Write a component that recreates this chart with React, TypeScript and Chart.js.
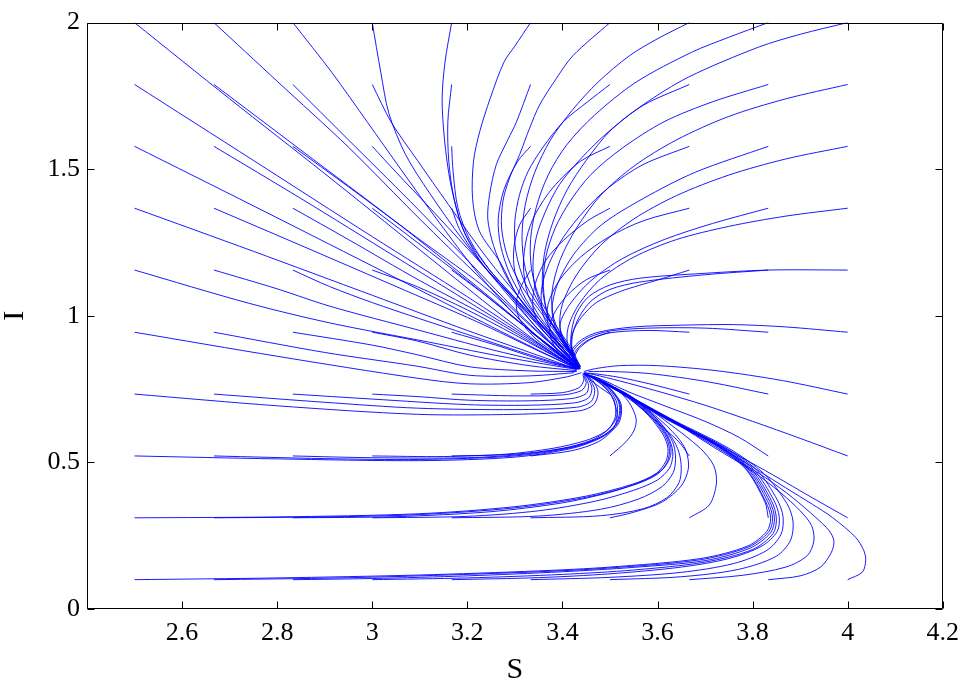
import React, { useEffect, useRef } from 'react';
import { Chart, registerables } from 'chart.js';

Chart.register(...registerables);

type Pt = [number, number];
type Traj = Pt[];

const X_TICKS = [2.4, 2.6, 2.8, 3.0, 3.2, 3.4, 3.6, 3.8, 4.0, 4.2];
const Y_TICKS = [0, 0.5, 1, 1.5, 2];
const X_TITLE = 'S';
const Y_TITLE = 'I';

// Trajectories grouped by their starting I value (each one: list of [S, I])
const ROW_I010: Traj[] = [
  [[2.5,0.1],[2.8,0.106],[3.1,0.116],[3.35,0.13],[3.5,0.143],[3.69,0.172],[3.79,0.215],[3.83,0.265],[3.838,0.31],[3.828,0.365],[3.786,0.48],[3.723,0.56],[3.618,0.65],[3.534,0.729],[3.478,0.779],[3.447,0.802]],
  [[2.667,0.1],[2.9,0.105],[3.1,0.113],[3.35,0.127],[3.5,0.14],[3.69,0.168],[3.792,0.212],[3.834,0.263],[3.842,0.31],[3.832,0.366],[3.79,0.478],[3.726,0.558],[3.62,0.649],[3.536,0.728],[3.479,0.778],[3.447,0.802]],
  [[2.833,0.1],[3.0,0.104],[3.2,0.113],[3.4,0.127],[3.55,0.142],[3.7,0.165],[3.795,0.208],[3.838,0.26],[3.846,0.31],[3.836,0.367],[3.794,0.476],[3.728,0.557],[3.621,0.648],[3.537,0.727],[3.48,0.778],[3.447,0.802]],
  [[3.0,0.1],[3.2,0.106],[3.4,0.118],[3.55,0.133],[3.7,0.16],[3.8,0.203],[3.843,0.257],[3.85,0.31],[3.84,0.368],[3.798,0.475],[3.73,0.556],[3.622,0.648],[3.537,0.727],[3.48,0.778],[3.447,0.802]],
  [[3.167,0.1],[3.35,0.107],[3.5,0.12],[3.65,0.143],[3.75,0.172],[3.82,0.215],[3.852,0.265],[3.856,0.315],[3.845,0.37],[3.803,0.474],[3.735,0.555],[3.625,0.647],[3.538,0.727],[3.48,0.778],[3.447,0.802]],
  [[3.333,0.1],[3.5,0.108],[3.65,0.125],[3.76,0.155],[3.83,0.2],[3.86,0.255],[3.864,0.315],[3.852,0.372],[3.81,0.472],[3.74,0.553],[3.628,0.646],[3.54,0.726],[3.48,0.778],[3.447,0.802]],
  [[3.5,0.1],[3.65,0.11],[3.77,0.135],[3.85,0.18],[3.88,0.235],[3.885,0.3],[3.872,0.36],[3.825,0.46],[3.75,0.548],[3.635,0.643],[3.542,0.725],[3.481,0.777],[3.447,0.802]],
  [[3.667,0.1],[3.779,0.115],[3.87,0.143],[3.915,0.182],[3.929,0.233],[3.924,0.285],[3.9,0.335],[3.86,0.395],[3.8,0.47],[3.72,0.55],[3.64,0.632],[3.55,0.718],[3.485,0.775],[3.448,0.802]],
  [[3.833,0.1],[3.9,0.113],[3.943,0.143],[3.966,0.194],[3.971,0.233],[3.961,0.267],[3.933,0.312],[3.884,0.38],[3.828,0.447],[3.772,0.503],[3.7,0.575],[3.61,0.66],[3.53,0.735],[3.475,0.782],[3.448,0.802]],
  [[4.0,0.1],[4.031,0.126],[4.038,0.166],[4.034,0.199],[4.017,0.244],[3.968,0.312],[3.926,0.357],[3.87,0.413],[3.814,0.47],[3.758,0.526],[3.69,0.59],[3.6,0.67],[3.52,0.74],[3.47,0.785],[3.448,0.802]],
];

const ROW_I031: Traj[] = [
  [[2.5,0.311],[2.8,0.314],[3.1,0.325],[3.3,0.349],[3.45,0.385],[3.548,0.426],[3.597,0.462],[3.618,0.505],[3.622,0.548],[3.612,0.594],[3.581,0.66],[3.533,0.729],[3.478,0.779],[3.447,0.802]],
  [[2.667,0.311],[2.9,0.314],[3.1,0.322],[3.3,0.345],[3.45,0.381],[3.55,0.423],[3.6,0.46],[3.621,0.503],[3.625,0.548],[3.615,0.595],[3.583,0.661],[3.534,0.729],[3.478,0.779],[3.447,0.802]],
  [[2.833,0.311],[3.05,0.315],[3.25,0.332],[3.4,0.362],[3.5,0.398],[3.57,0.437],[3.61,0.475],[3.626,0.515],[3.628,0.55],[3.617,0.597],[3.585,0.662],[3.535,0.729],[3.478,0.779],[3.447,0.802]],
  [[3.0,0.311],[3.2,0.316],[3.35,0.335],[3.47,0.368],[3.55,0.405],[3.6,0.44],[3.625,0.48],[3.632,0.52],[3.63,0.555],[3.618,0.6],[3.586,0.664],[3.536,0.73],[3.478,0.779],[3.447,0.802]],
  [[3.167,0.311],[3.35,0.317],[3.48,0.34],[3.56,0.375],[3.61,0.418],[3.633,0.465],[3.638,0.51],[3.634,0.56],[3.62,0.603],[3.588,0.665],[3.537,0.73],[3.479,0.779],[3.447,0.802]],
  [[3.333,0.311],[3.48,0.318],[3.57,0.342],[3.62,0.38],[3.645,0.43],[3.65,0.48],[3.645,0.535],[3.63,0.585],[3.595,0.655],[3.54,0.728],[3.48,0.779],[3.447,0.802]],
  [[3.5,0.311],[3.55,0.33],[3.61,0.365],[3.65,0.42],[3.665,0.48],[3.66,0.54],[3.64,0.59],[3.6,0.653],[3.545,0.725],[3.482,0.778],[3.447,0.802]],
  [[3.667,0.311],[3.709,0.355],[3.724,0.43],[3.718,0.49],[3.69,0.548],[3.62,0.638],[3.55,0.718],[3.483,0.777],[3.447,0.802]],
  [[3.833,0.311],[3.826,0.365],[3.784,0.48],[3.72,0.56],[3.615,0.65],[3.532,0.729],[3.478,0.779],[3.447,0.802]],
  [[4.0,0.311],[3.926,0.379],[3.842,0.458],[3.779,0.515],[3.7,0.585],[3.6,0.672],[3.52,0.74],[3.47,0.785],[3.448,0.802]],
];

const ROW_I052: Traj[] = [
  [[2.5,0.522],[2.8,0.512],[3.1,0.506],[3.3,0.518],[3.42,0.548],[3.48,0.583],[3.515,0.625],[3.524,0.665],[3.522,0.705],[3.502,0.75],[3.472,0.784],[3.447,0.802]],
  [[2.667,0.522],[2.9,0.513],[3.1,0.51],[3.3,0.522],[3.42,0.551],[3.48,0.586],[3.513,0.627],[3.522,0.666],[3.52,0.706],[3.5,0.751],[3.471,0.785],[3.447,0.802]],
  [[2.833,0.522],[3.0,0.516],[3.2,0.516],[3.33,0.53],[3.43,0.557],[3.485,0.59],[3.512,0.63],[3.52,0.668],[3.518,0.707],[3.499,0.752],[3.47,0.785],[3.447,0.802]],
  [[3.0,0.522],[3.15,0.52],[3.28,0.528],[3.38,0.548],[3.45,0.575],[3.49,0.605],[3.51,0.64],[3.516,0.672],[3.513,0.71],[3.495,0.754],[3.468,0.786],[3.447,0.802]],
  [[3.167,0.522],[3.3,0.528],[3.4,0.548],[3.46,0.575],[3.495,0.61],[3.51,0.648],[3.512,0.68],[3.508,0.715],[3.49,0.756],[3.465,0.787],[3.447,0.802]],
  [[3.333,0.522],[3.42,0.54],[3.475,0.57],[3.505,0.61],[3.515,0.65],[3.512,0.69],[3.5,0.735],[3.475,0.775],[3.447,0.802]],
  [[3.5,0.522],[3.534,0.571],[3.551,0.61],[3.555,0.65],[3.54,0.705],[3.513,0.751],[3.475,0.787],[3.447,0.802]],
  [[3.667,0.522],[3.645,0.57],[3.6,0.635],[3.55,0.705],[3.49,0.77],[3.447,0.802]],
  [[3.833,0.522],[3.772,0.585],[3.7,0.64],[3.62,0.69],[3.54,0.74],[3.48,0.785],[3.447,0.802]],
  [[4.0,0.522],[3.9,0.582],[3.8,0.64],[3.7,0.695],[3.6,0.743],[3.52,0.778],[3.465,0.8],[3.445,0.806]],
];

const ROW_I073: Traj[] = [
  [[2.5,0.733],[2.8,0.693],[3.095,0.664],[3.3,0.664],[3.436,0.676],[3.466,0.697],[3.475,0.74],[3.464,0.779],[3.447,0.802]],
  [[2.667,0.733],[2.9,0.705],[3.095,0.685],[3.3,0.68],[3.43,0.688],[3.46,0.707],[3.468,0.745],[3.458,0.782],[3.445,0.803]],
  [[2.833,0.733],[3.0,0.716],[3.2,0.697],[3.33,0.695],[3.425,0.703],[3.455,0.72],[3.462,0.752],[3.454,0.785],[3.444,0.803]],
  [[3.0,0.733],[3.1,0.724],[3.205,0.712],[3.33,0.71],[3.42,0.718],[3.45,0.735],[3.455,0.762],[3.449,0.789],[3.443,0.804]],
  [[3.167,0.733],[3.3,0.727],[3.4,0.73],[3.44,0.745],[3.45,0.77],[3.445,0.795]],
  [[3.333,0.733],[3.4,0.738],[3.435,0.755],[3.445,0.78],[3.443,0.8]],
  [[3.5,0.733],[3.48,0.755],[3.46,0.78],[3.447,0.8]],
  [[3.667,0.733],[3.583,0.768],[3.52,0.79],[3.47,0.802],[3.447,0.805]],
  [[3.833,0.733],[3.709,0.774],[3.583,0.803],[3.5,0.81],[3.455,0.81]],
  [[4.0,0.733],[3.863,0.779],[3.723,0.813],[3.6,0.83],[3.52,0.83],[3.47,0.82],[3.445,0.81]],
];

const ROW_I094: Traj[] = [
  [[2.5,0.944],[2.8,0.862],[3.095,0.787],[3.205,0.768],[3.33,0.772],[3.41,0.792],[3.44,0.806]],
  [[2.667,0.944],[2.9,0.875],[3.095,0.828],[3.205,0.797],[3.33,0.795],[3.425,0.806]],
  [[2.833,0.944],[3.0,0.9],[3.095,0.867],[3.205,0.826],[3.33,0.812],[3.43,0.81]],
  [[3.0,0.944],[3.095,0.914],[3.205,0.866],[3.33,0.83],[3.43,0.813]],
  [[3.167,0.944],[3.26,0.9],[3.35,0.853],[3.432,0.818]],
  [[3.333,0.944],[3.375,0.895],[3.41,0.85],[3.434,0.818]],
  [[3.5,0.944],[3.462,0.922],[3.435,0.888],[3.425,0.852],[3.436,0.818]],
  [[3.667,0.944],[3.58,0.95],[3.5,0.942],[3.455,0.918],[3.43,0.885],[3.422,0.85],[3.435,0.818]],
  [[3.833,0.944],[3.7,0.958],[3.58,0.958],[3.5,0.948],[3.455,0.926],[3.428,0.893],[3.42,0.858],[3.434,0.82]],
  [[4.0,0.944],[3.87,0.962],[3.76,0.97],[3.65,0.968],[3.55,0.962],[3.475,0.944],[3.44,0.918],[3.418,0.88],[3.416,0.845],[3.433,0.818]],
];

const ROW_I116: Traj[] = [
  [[2.5,1.156],[2.74,1.043],[2.91,0.976],[3.12,0.91],[3.26,0.865],[3.36,0.836],[3.43,0.817]],
  [[2.667,1.156],[2.8,1.092],[2.91,1.033],[3.1,0.95],[3.25,0.885],[3.36,0.843],[3.43,0.818]],
  [[2.833,1.156],[2.91,1.1],[3.0,1.045],[3.1,0.99],[3.25,0.91],[3.36,0.852],[3.43,0.819]],
  [[3.0,1.156],[3.095,1.099],[3.2,1.02],[3.3,0.935],[3.38,0.865],[3.432,0.82]],
  [[3.167,1.156],[3.23,1.08],[3.3,0.99],[3.37,0.9],[3.41,0.85],[3.434,0.82]],
  [[3.333,1.156],[3.313,1.1],[3.303,1.044],[3.31,0.988],[3.345,0.92],[3.394,0.864],[3.432,0.822]],
  [[3.5,1.156],[3.45,1.123],[3.408,1.066],[3.38,1.0],[3.373,0.943],[3.387,0.886],[3.415,0.841],[3.435,0.818]],
  [[3.667,1.156],[3.6,1.122],[3.562,1.104],[3.52,1.082],[3.471,1.045],[3.44,0.995],[3.422,0.945],[3.418,0.9],[3.426,0.85],[3.436,0.818]],
  [[3.833,1.156],[3.7,1.14],[3.562,1.115],[3.5,1.09],[3.46,1.05],[3.435,0.995],[3.422,0.94],[3.42,0.89],[3.43,0.838]],
  [[4.0,1.156],[3.834,1.156],[3.68,1.143],[3.562,1.128],[3.5,1.105],[3.455,1.065],[3.43,1.01],[3.42,0.955],[3.418,0.9],[3.428,0.85],[3.437,0.82]],
];

const ROW_I137: Traj[] = [
  [[2.5,1.367],[2.75,1.22],[3.0,1.07],[3.2,0.95],[3.34,0.87],[3.43,0.818]],
  [[2.667,1.367],[2.85,1.24],[3.05,1.1],[3.22,0.98],[3.35,0.88],[3.43,0.82]],
  [[2.833,1.367],[2.95,1.26],[3.1,1.12],[3.25,0.99],[3.36,0.885],[3.432,0.82]],
  [[3.0,1.367],[3.095,1.25],[3.2,1.12],[3.3,0.99],[3.38,0.89],[3.433,0.822]],
  [[3.167,1.367],[3.185,1.29],[3.225,1.19],[3.28,1.09],[3.34,0.99],[3.395,0.9],[3.435,0.822]],
  [[3.333,1.367],[3.31,1.31],[3.298,1.234],[3.3,1.15],[3.322,1.06],[3.36,0.97],[3.4,0.89],[3.432,0.83]],
  [[3.5,1.367],[3.453,1.324],[3.402,1.257],[3.365,1.189],[3.343,1.11],[3.338,1.03],[3.355,0.96],[3.395,0.89],[3.432,0.83]],
  [[3.667,1.367],[3.57,1.324],[3.497,1.268],[3.438,1.2],[3.394,1.122],[3.37,1.04],[3.37,0.97],[3.395,0.9],[3.43,0.835]],
  [[3.833,1.367],[3.716,1.315],[3.614,1.26],[3.526,1.195],[3.46,1.12],[3.416,1.04],[3.395,0.97],[3.405,0.9],[3.432,0.835]],
  [[4.0,1.367],[3.87,1.34],[3.75,1.305],[3.64,1.26],[3.55,1.2],[3.48,1.125],[3.435,1.04],[3.412,0.96],[3.412,0.89],[3.435,0.83]],
];

const ROW_I158: Traj[] = [
  [[2.5,1.578],[2.75,1.375],[3.0,1.17],[3.2,1.005],[3.34,0.89],[3.43,0.82]],
  [[2.667,1.578],[2.85,1.4],[3.05,1.2],[3.22,1.03],[3.35,0.9],[3.43,0.82]],
  [[2.833,1.578],[2.95,1.44],[3.1,1.26],[3.25,1.08],[3.36,0.91],[3.432,0.822]],
  [[3.0,1.578],[3.05,1.49],[3.12,1.37],[3.2,1.23],[3.29,1.07],[3.37,0.93],[3.433,0.822]],
  [[3.167,1.578],[3.17,1.493],[3.18,1.369],[3.205,1.26],[3.25,1.15],[3.31,1.045],[3.37,0.945],[3.415,0.86],[3.437,0.82]],
  [[3.333,1.578],[3.306,1.527],[3.277,1.43],[3.265,1.33],[3.27,1.24],[3.29,1.14],[3.325,1.04],[3.375,0.945],[3.418,0.87],[3.437,0.82]],
  [[3.5,1.578],[3.438,1.527],[3.38,1.437],[3.343,1.347],[3.325,1.268],[3.318,1.17],[3.328,1.07],[3.36,0.98],[3.405,0.9],[3.436,0.825]],
  [[3.667,1.578],[3.57,1.516],[3.497,1.437],[3.446,1.358],[3.402,1.268],[3.372,1.178],[3.356,1.09],[3.36,1.0],[3.385,0.93],[3.418,0.87],[3.437,0.825]],
  [[3.833,1.578],[3.68,1.49],[3.57,1.4],[3.482,1.31],[3.424,1.21],[3.39,1.11],[3.378,1.02],[3.39,0.94],[3.42,0.87],[3.438,0.825]],
  [[4.0,1.578],[3.87,1.535],[3.75,1.48],[3.64,1.41],[3.55,1.33],[3.48,1.24],[3.43,1.14],[3.4,1.04],[3.395,0.96],[3.415,0.88],[3.437,0.83]],
];

const ROW_I179: Traj[] = [
  [[2.5,1.789],[2.75,1.53],[3.0,1.27],[3.2,1.065],[3.34,0.915],[3.43,0.82]],
  [[2.667,1.789],[2.85,1.565],[3.05,1.32],[3.22,1.1],[3.35,0.925],[3.43,0.822]],
  [[2.833,1.789],[2.95,1.6],[3.08,1.39],[3.2,1.19],[3.32,0.99],[3.432,0.822]],
  [[3.0,1.789],[3.04,1.66],[3.095,1.53],[3.16,1.38],[3.24,1.2],[3.32,1.04],[3.39,0.9],[3.433,0.822]],
  [[3.167,1.789],[3.159,1.662],[3.161,1.527],[3.172,1.4],[3.195,1.28],[3.24,1.17],[3.3,1.06],[3.36,0.95],[3.41,0.86],[3.436,0.82]],
  [[3.333,1.789],[3.303,1.66],[3.285,1.6],[3.261,1.516],[3.247,1.414],[3.243,1.33],[3.255,1.24],[3.28,1.14],[3.318,1.04],[3.37,0.945],[3.415,0.87],[3.436,0.82]],
  [[3.5,1.789],[3.453,1.73],[3.402,1.662],[3.358,1.572],[3.328,1.493],[3.31,1.414],[3.3,1.324],[3.302,1.22],[3.322,1.11],[3.36,1.01],[3.405,0.91],[3.436,0.825]],
  [[3.667,1.789],[3.57,1.718],[3.497,1.628],[3.44,1.538],[3.394,1.448],[3.365,1.358],[3.345,1.268],[3.338,1.17],[3.345,1.08],[3.37,0.99],[3.41,0.9],[3.437,0.825]],
  [[3.833,1.789],[3.716,1.73],[3.614,1.662],[3.526,1.572],[3.46,1.482],[3.416,1.39],[3.385,1.3],[3.365,1.2],[3.36,1.1],[3.37,1.0],[3.4,0.92],[3.43,0.845]],
  [[4.0,1.789],[3.87,1.74],[3.75,1.68],[3.64,1.6],[3.55,1.51],[3.48,1.41],[3.43,1.3],[3.395,1.19],[3.378,1.08],[3.382,0.99],[3.405,0.91],[3.435,0.835]],
];

const ROW_I200: Traj[] = [
  [[2.5,2.0],[2.7,1.74],[2.9,1.485],[3.1,1.225],[3.25,1.03],[3.36,0.895],[3.43,0.82]],
  [[2.667,2.0],[2.8,1.8],[2.95,1.575],[3.1,1.33],[3.22,1.14],[3.33,0.97],[3.4,0.87],[3.433,0.82]],
  [[2.833,2.0],[2.915,1.83],[2.99,1.66],[3.06,1.5],[3.14,1.32],[3.23,1.13],[3.32,0.97],[3.39,0.87],[3.433,0.82]],
  [[3.0,2.0],[3.018,1.83],[3.035,1.69],[3.07,1.55],[3.12,1.42],[3.19,1.26],[3.27,1.1],[3.34,0.97],[3.4,0.87],[3.434,0.82]],
  [[3.167,2.0],[3.153,1.865],[3.147,1.74],[3.152,1.6],[3.165,1.45],[3.19,1.3],[3.23,1.18],[3.29,1.07],[3.35,0.95],[3.405,0.86],[3.435,0.82]],
  [[3.333,2.0],[3.3,1.92],[3.277,1.865],[3.248,1.741],[3.226,1.628],[3.213,1.527],[3.211,1.4],[3.225,1.29],[3.27,1.18],[3.305,1.07],[3.36,0.96],[3.41,0.87],[3.435,0.82]],
  [[3.5,2.0],[3.422,1.887],[3.387,1.809],[3.352,1.719],[3.331,1.64],[3.31,1.55],[3.289,1.471],[3.275,1.392],[3.272,1.3],[3.285,1.2],[3.315,1.1],[3.36,1.0],[3.405,0.9],[3.435,0.825]],
  [[3.667,2.0],[3.599,1.944],[3.541,1.887],[3.475,1.797],[3.42,1.7],[3.375,1.6],[3.342,1.49],[3.322,1.38],[3.315,1.27],[3.322,1.16],[3.345,1.06],[3.38,0.97],[3.415,0.89],[3.437,0.825]],
  [[3.833,2.0],[3.75,1.95],[3.672,1.899],[3.555,1.797],[3.468,1.685],[3.409,1.583],[3.37,1.48],[3.345,1.37],[3.333,1.26],[3.335,1.16],[3.352,1.06],[3.385,0.97],[3.418,0.89],[3.438,0.825]],
  [[4.0,2.0],[3.9,1.96],[3.812,1.916],[3.665,1.814],[3.57,1.72],[3.5,1.63],[3.45,1.53],[3.41,1.43],[3.38,1.32],[3.362,1.21],[3.358,1.1],[3.37,1.0],[3.4,0.91],[3.43,0.84]],
];

const ALL_ROWS: Traj[][] = [
  ROW_I010, ROW_I031, ROW_I052, ROW_I073, ROW_I094,
  ROW_I116, ROW_I137, ROW_I158, ROW_I179, ROW_I200,
];

const FONT_FAMILY = "'Liberation Serif', 'Times New Roman', serif";

export default function App() {
  const canvasRef = useRef<HTMLCanvasElement>(null);

  useEffect(() => {
    const canvas = canvasRef.current;
    if (!canvas) return;

    const datasets = ALL_ROWS.flat().map((traj) => ({
      data: traj.map(([x, y]) => ({ x, y })),
      showLine: true,
      borderColor: '#0000ff',
      borderWidth: 0.9,
      pointRadius: 0,
      pointHoverRadius: 0,
      tension: 0.3,
      fill: false,
    }));

    const boxPlugin = {
      id: 'matlabBox',
      afterDraw(chart: any) {
        const { ctx, chartArea: a, scales } = chart;
        const L = Math.round(a.left) + 0.5;
        const R = Math.round(a.right) - 0.5;
        const T = Math.round(a.top) + 0.5;
        const B = Math.round(a.bottom) - 0.5;
        const len = 7;
        ctx.save();
        ctx.strokeStyle = '#000';
        ctx.lineWidth = 1;
        ctx.beginPath();
        ctx.rect(L, T, R - L, B - T);
        X_TICKS.forEach((v) => {
          const px = Math.round(scales.x.getPixelForValue(v)) + 0.5;
          ctx.moveTo(px, B);
          ctx.lineTo(px, B - len);
          ctx.moveTo(px, T);
          ctx.lineTo(px, T + len);
        });
        Y_TICKS.forEach((v) => {
          const py = Math.round(scales.y.getPixelForValue(v)) + 0.5;
          ctx.moveTo(L, py);
          ctx.lineTo(L + len, py);
          ctx.moveTo(R, py);
          ctx.lineTo(R - len, py);
        });
        ctx.stroke();
        ctx.restore();
      },
    };

    const chart = new Chart(canvas, {
      type: 'scatter',
      data: { datasets },
      options: {
        responsive: false,
        animation: false,
        events: [],
        layout: { padding: { left: 0, top: 17, right: 22, bottom: 0 } },
        plugins: { legend: { display: false }, tooltip: { enabled: false } },
        scales: {
          x: {
            type: 'linear',
            min: 2.4,
            max: 4.2,
            afterBuildTicks: (s: any) => {
              s.ticks = X_TICKS.map((v) => ({ value: v }));
            },
            afterFit: (s: any) => {
              s.height = 78;
            },
            grid: { display: false, drawTicks: false },
            border: { display: false },
            ticks: {
              padding: 9,
              color: '#000',
              maxRotation: 0,
              autoSkip: false,
              font: { family: FONT_FAMILY, size: 26 },
              callback: (v: any) => {
                const n = Number(v);
                if (Math.abs(n - 2.4) < 1e-9) return '';
                return String(Number(n.toFixed(1)));
              },
            },
            title: {
              display: true,
              text: X_TITLE,
              color: '#000',
              font: { family: FONT_FAMILY, size: 30 },
              padding: { top: 0, bottom: -1 },
            },
          },
          y: {
            type: 'linear',
            min: 0,
            max: 2,
            afterBuildTicks: (s: any) => {
              s.ticks = Y_TICKS.map((v) => ({ value: v }));
            },
            afterFit: (s: any) => {
              s.width = 87;
            },
            grid: { display: false, drawTicks: false },
            border: { display: false },
            ticks: {
              padding: 7,
              color: '#000',
              autoSkip: false,
              font: { family: FONT_FAMILY, size: 26 },
              callback: (v: any) => String(Number(Number(v).toFixed(1))),
            },
            title: {
              display: true,
              text: Y_TITLE,
              color: '#000',
              font: { family: FONT_FAMILY, size: 30 },
              padding: { top: -3, bottom: 0 },
            },
          },
        },
      },
      plugins: [boxPlugin],
    });

    return () => chart.destroy();
  }, []);

  return (
    <div style={{ position: 'absolute', left: 0, top: 0, width: 968, height: 687, background: '#fff' }}>
      <canvas ref={canvasRef} width={968} height={687} style={{ display: 'block' }} />
    </div>
  );
}
